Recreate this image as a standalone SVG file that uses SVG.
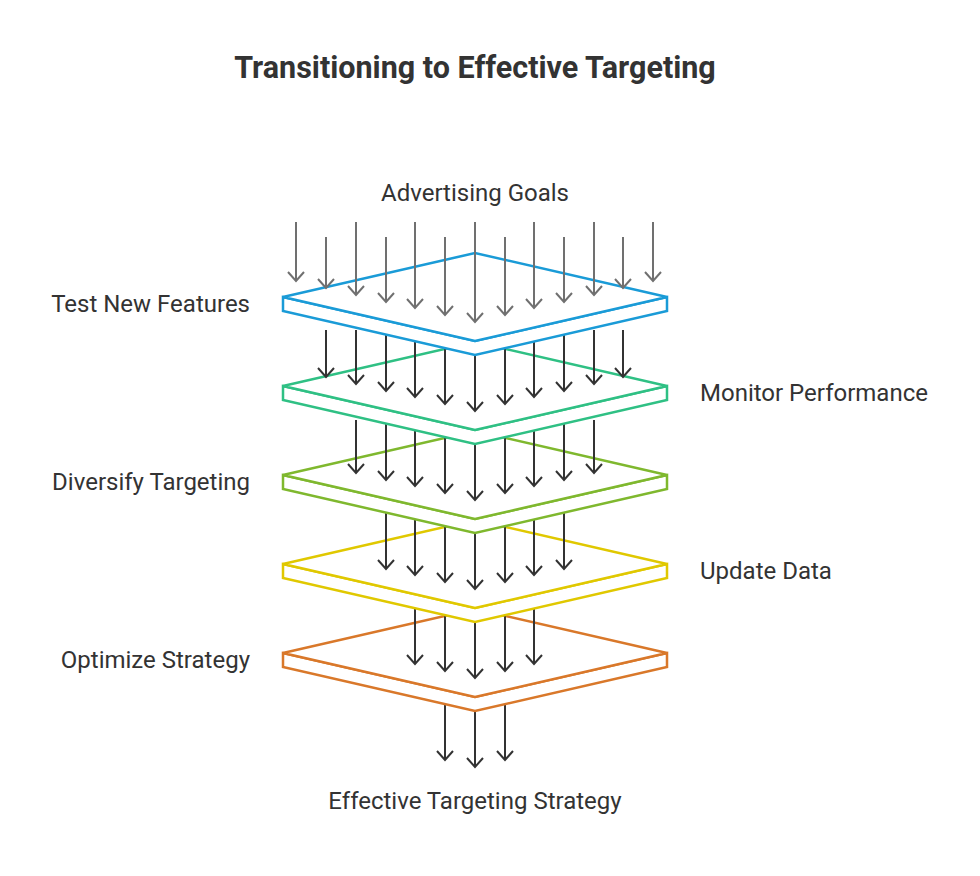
<svg xmlns="http://www.w3.org/2000/svg" width="980" height="876" viewBox="0 0 980 876">
<style>
text{font-family:Roboto,"Liberation Sans",sans-serif;fill:#333;font-size:24px}
.t{font-weight:bold;font-size:30.5px;text-anchor:middle}
.c{text-anchor:middle}.r{text-anchor:end}
.a path{stroke:#333;stroke-width:2;fill:none;marker-end:url(#m)}
.g path{stroke:#707070;stroke-width:2;fill:none;marker-end:url(#mg)}
.p{fill:#fff;stroke-width:2.5;stroke-linejoin:miter}
</style>
<defs>
<marker id="m" markerUnits="userSpaceOnUse" markerWidth="20" markerHeight="20" viewBox="-10 -10 20 20" refX="0" refY="0" orient="auto" overflow="visible"><path d="M-9,-8 L0,0 L-9,8" fill="none" stroke="#333" stroke-width="2"/></marker>
<marker id="mg" markerUnits="userSpaceOnUse" markerWidth="20" markerHeight="20" viewBox="-10 -10 20 20" refX="0" refY="0" orient="auto" overflow="visible"><path d="M-9,-8 L0,0 L-9,8" fill="none" stroke="#707070" stroke-width="2"/></marker>
</defs>
<rect width="980" height="876" fill="#fff"/>
<text class="t" x="475" y="78">Transitioning to Effective Targeting</text>
<g id="connectors-6" class="a">
<path d="M445,690V760"/><path d="M475,690V767"/><path d="M505,690V760"/>
</g>
<g id="optimize-strategy">
<path class="p" stroke="#d9782a" d="M283,653 L475,697 L667,653 L667,667 L475,711 L283,667Z"/>
<path class="p" stroke="#d9782a" d="M283,653 L475,609 L667,653 L475,697Z"/>
<text class="r" x="250" y="668">Optimize Strategy</text>
</g>
<g id="connectors-5" class="a">
<path d="M415,600V664"/><path d="M445,600V671"/><path d="M475,600V678"/><path d="M505,600V671"/><path d="M534,600V664"/>
</g>
<g id="update-data">
<path class="p" stroke="#e0c800" d="M283,564 L475,608 L667,564 L667,578 L475,622 L283,578Z"/>
<path class="p" stroke="#e0c800" d="M283,564 L475,520 L667,564 L475,608Z"/>
<text x="700" y="579">Update Data</text>
</g>
<g id="connectors-4" class="a">
<path d="M386,510V569"/><path d="M415,510V575"/><path d="M445,510V582"/><path d="M475,510V589"/><path d="M505,510V582"/><path d="M534,510V575"/><path d="M564,510V569"/>
</g>
<g id="diversify-targeting">
<path class="p" stroke="#7fb82e" d="M283,475 L475,519 L667,475 L667,489 L475,533 L283,489Z"/>
<path class="p" stroke="#7fb82e" d="M283,475 L475,431 L667,475 L475,519Z"/>
<text class="r" x="250" y="490">Diversify Targeting</text>
</g>
<g id="connectors-3" class="a">
<path d="M356,420V473"/><path d="M386,420V480"/><path d="M415,420V486"/><path d="M445,420V493"/><path d="M475,420V500"/><path d="M505,420V493"/><path d="M534,420V486"/><path d="M564,420V480"/><path d="M594,420V473"/>
</g>
<g id="monitor-performance">
<path class="p" stroke="#2fc084" d="M283,386 L475,430 L667,386 L667,400 L475,444 L283,400Z"/>
<path class="p" stroke="#2fc084" d="M283,386 L475,342 L667,386 L475,430Z"/>
<text x="700" y="401">Monitor Performance</text>
</g>
<g id="connectors-2" class="a">
<path d="M326,330V377"/><path d="M356,330V384"/><path d="M386,330V391"/><path d="M415,330V397"/><path d="M445,330V404"/><path d="M475,330V411"/><path d="M505,330V404"/><path d="M534,330V397"/><path d="M564,330V391"/><path d="M594,330V384"/><path d="M623,330V377"/>
</g>
<g id="test-new-features">
<path class="p" stroke="#1a9bd7" d="M283,297 L475,341 L667,297 L667,311 L475,355 L283,311Z"/>
<path class="p" stroke="#1a9bd7" d="M283,297 L475,253 L667,297 L475,341Z"/>
<text class="r" x="250" y="312">Test New Features</text>
</g>
<g id="advertising-goals">
<text class="c" x="475" y="201">Advertising Goals</text>
</g>
<g id="connectors-1" class="g">
<path d="M296,222V281"/><path d="M326,237V288"/><path d="M356,222V295"/><path d="M386,237V302"/><path d="M415,222V308"/><path d="M445,237V315"/><path d="M475,222V322"/><path d="M505,237V315"/><path d="M534,222V308"/><path d="M564,237V302"/><path d="M594,222V295"/><path d="M623,237V288"/><path d="M653,222V281"/>
</g>
<g id="effective-targeting-strategy">
<text class="c" x="475" y="809">Effective Targeting Strategy</text>
</g>
</svg>
